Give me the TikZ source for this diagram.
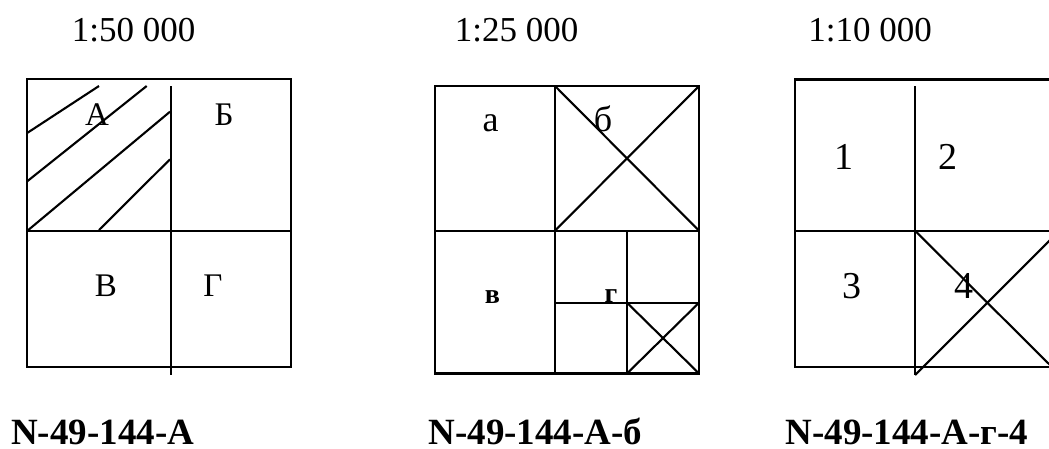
\documentclass[tikz,border=0pt]{standalone}
\usepackage{fontspec}
\setmainfont{Liberation Serif}
\begin{document}
\begin{tikzpicture}[x=1pt,y=-1pt,
  ln/.style={line width=2.1pt,line cap=butt},
  title/.style={anchor=base,inner sep=0pt,font=\fontsize{35}{40}\selectfont},
  code/.style={anchor=base,inner sep=0pt,font=\fontsize{37}{42}\selectfont\bfseries},
  up/.style={anchor=base,inner sep=0pt,font=\fontsize{33}{38}\selectfont},
  lo/.style={anchor=base,inner sep=0pt,font=\fontsize{36}{40}\selectfont},
  sm/.style={anchor=base,inner sep=0pt,font=\fontsize{28}{32}\selectfont\bfseries},
  num/.style={anchor=base,inner sep=0pt,font=\fontsize{38}{42}\selectfont}]
\useasboundingbox (0,0) rectangle (1049,448);
\clip (0,0) rectangle (1049,448);
% titles
\node[title] (t1) at (133.7,41.7) {1:50 000};
\node[title] (t2) at (516.7,41.7) {1:25 000};
\node[title] (t3) at (870,41.7) {1:10 000};
% box 1
\draw[ln] (26.7,79.3) rectangle (291,367.3);
\draw[ln] (171,86) -- (171,375);
\draw[ln] (26.7,231) -- (291,231);
\draw[ln] (26.7,133.3) -- (99,86);
\draw[ln] (26.7,181.7) -- (146.7,86);
\draw[ln] (28.3,230) -- (170,111.7);
\draw[ln] (99,230) -- (170,159.3);
\node[up] (A) at (97,125.7) {А};
\node[up] (B) at (224,125.7) {Б};
\node[up] (V) at (106,296.7) {В};
\node[up] (G) at (213,296.7) {Г};
% box 2
\draw[ln] (435,86) rectangle (699,373.5);
\draw[ln] (555,86) -- (555,373.5);
\draw[ln] (435,230.7) -- (699,230.7);
\draw[ln] (555,86) -- (699,230.7);
\draw[ln] (555,230.7) -- (699,86);
\draw[ln] (627,230.7) -- (627,373.5);
\draw[ln] (555,302.7) -- (699,302.7);
\draw[ln] (627,302.7) -- (699,373.5);
\draw[ln] (627,373.5) -- (699,302.7);
\node[lo] (a) at (490.7,131.7) {а};
\node[lo] (b) at (603,131.7) {б};
\node[sm] (v) at (492.5,303.3) {в};
\node[sm] (g) at (611,302.7) {г};
% box 3
\draw[ln] (795,79.5) rectangle (1059,367);
\draw[ln] (915,86) -- (915,375);
\draw[ln] (795,230.7) -- (1059,230.7);
\draw[ln] (915,230.7) -- (1052,367);
\draw[ln] (915,375) -- (1059,231);
\node[num] (n1) at (843.5,169) {1};
\node[num] (n2) at (948,169) {2};
\node[num] (n3) at (852,298.3) {3};
\node[num] (n4) at (964,298.3) {4};
% codes
\node[code] (c1) at (102.7,444.5) {N-49-144-А};
\node[code] (c2) at (535.5,444.5) {N-49-144-А-б};
\node[code] (c3) at (907,444.5) {N-49-144-А-г-4};
\end{tikzpicture}
\end{document}
